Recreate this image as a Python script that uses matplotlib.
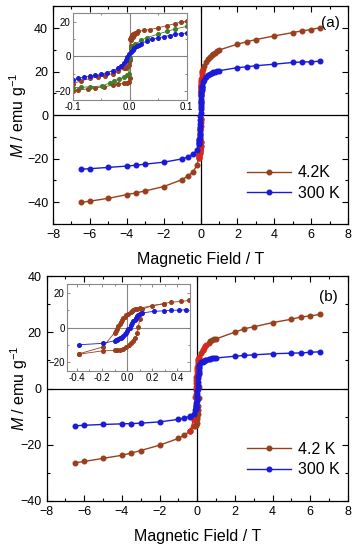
import matplotlib
matplotlib.use("Agg")
import matplotlib.pyplot as plt
from matplotlib.ticker import MultipleLocator

plt.rcParams['font.family'] = ['Liberation Sans', 'DejaVu Sans']
plt.rcParams['mathtext.fontset'] = 'custom'
plt.rcParams['mathtext.rm'] = 'Liberation Sans'
plt.rcParams['mathtext.it'] = 'Liberation Sans:italic'

BROWN = "#9a3f1c"
RED = "#d8281c"
BLUE = "#1a1ad8"
GREEN = "#3f7d2a"

# ── panel (a): main loop ─────────────────────────────────────────────────
a_field_neg = [-6.5, -6, -5, -4, -3.5, -3, -2, -1, -0.7, -0.4, -0.2]
a_42_neg = [-40.1, -39.5, -38.2, -36.5, -35.7, -34.8, -32.8, -29.6, -28.0, -26.0, -23.0]
a_300_neg = [-24.8, -24.6, -24.0, -23.4, -23.0, -22.5, -21.6, -20.1, -19.2, -17.9, -16.1]
a_field_pos = [0.15, 0.2, 0.3, 0.4, 0.5, 0.6, 0.7, 0.8, 0.9, 1.0, 2, 2.5, 3, 4, 5, 5.5, 6, 6.5]
a_42_pos = [21.0, 22.4, 24.2, 25.6, 26.6, 27.4, 28.0, 28.7, 29.3, 29.9,
            32.6, 33.7, 34.7, 36.4, 37.9, 38.7, 39.3, 40.2]
a_300_pos = [15.0, 16.2, 17.4, 18.3, 18.9, 19.3, 19.6, 19.9, 20.2, 20.4,
             21.8, 22.2, 22.7, 23.4, 24.2, 24.4, 24.5, 24.8]

# ── panel (a): low-field inset ───────────────────────────────────────────
ia_300_x = [-0.1, -0.09, -0.08, -0.07, -0.06, -0.05, -0.04, -0.03, -0.02, -0.015,
            -0.01, -0.007, -0.004, -0.001, 0.002, 0.005, 0.008, 0.012, 0.016, 0.02,
            0.03, 0.04, 0.05, 0.06, 0.07, 0.08, 0.09, 0.1]
ia_300_y = [-13.4, -12.6, -11.9, -11.4, -10.9, -10.3, -9.3, -8.2, -6.7, -5.6,
            -3.9, -2.3, -0.5, 1.2, 2.7, 3.7, 4.6, 5.8, 6.7, 7.4,
            8.9, 9.9, 10.7, 11.4, 12.0, 12.7, 13.1, 13.5]
ia_42dn_x = [0.1, 0.09, 0.08, 0.065, 0.049, 0.036, 0.025, 0.015, 0.01, 0.006, 0.004,
             0.002, 0.001, -0.001, -0.002, -0.004, -0.007, -0.01, -0.02, -0.03,
             -0.043, -0.055, -0.07, -0.085, -0.1]
ia_42dn_y = [20.3, 19.8, 18.9, 17.7, 16.4, 15.5, 15.0, 14.4, 13.7, 12.9, 12.2,
             11.3, 10.3, -3.0, -5.0, -6.0, -6.4, -6.9, -8.5, -9.8,
             -11.0, -11.8, -12.6, -14.0, -15.6]
ia_42up_x = [-0.1, -0.09, -0.073, -0.06, -0.045, -0.03, -0.02, -0.01, -0.005, -0.002,
             0.0, 0.001, 0.002, 0.003, 0.005, 0.008, 0.012]
ia_42up_y = [-19.9, -19.4, -18.5, -18.0, -17.4, -16.5, -16.0, -15.4, -15.0, -14.4,
             -12.4, -2.0, 6.2, 9.3, 11.1, 12.4, 13.6]
ia_grn_x = [-0.1, -0.085, -0.069, -0.049, -0.035, -0.028, -0.018, -0.01, -0.005, -0.002,
            0.0, 0.002, 0.005, 0.01, 0.02, 0.03, 0.049, 0.065, 0.08, 0.1]
ia_grn_y = [-18.0, -17.7, -17.4, -17.0, -15.2, -14.0, -12.9, -11.8, -10.7, -9.8,
            -1.0, 4.6, 5.8, 7.2, 9.3, 10.8, 12.8, 14.4, 15.8, 17.3]

# ── panel (b): main loop ─────────────────────────────────────────────────
b_field_neg = [-6.5, -6, -5, -4, -3.5, -3, -2, -1, -0.7, -0.4]
b_42_neg = [-26.5, -26.0, -24.9, -23.8, -23.0, -22.1, -20.2, -17.8, -16.6, -15.3]
b_300_neg = [-13.3, -13.1, -12.8, -12.6, -12.5, -12.35, -11.9, -11.0, -10.5, -10.0]
b_field_pos = [0.6, 0.7, 0.8, 0.9, 1.0, 2, 2.5, 3, 4, 5, 5.5, 6, 6.5]
b_42_pos = [16.4, 16.9, 17.2, 17.5, 17.7, 20.1, 21.3, 22.0, 23.5, 24.7, 25.5, 25.9, 26.4]
b_300_pos = [10.6, 10.7, 10.8, 10.85, 10.9, 11.5, 11.8, 12.0, 12.4, 12.6, 12.7, 12.9, 13.1]

# ── panel (b): low-field inset ───────────────────────────────────────────
ib_300_x = [-0.38, -0.19, -0.1, -0.09, -0.08, -0.07, -0.06, -0.05, -0.04, -0.03, -0.02,
            -0.01, 0.0, 0.01, 0.02, 0.03, 0.04, 0.05, 0.06, 0.07, 0.08, 0.09, 0.1,
            0.12, 0.21, 0.29, 0.35, 0.41, 0.47]
ib_300_y = [-9.9, -9.1, -7.6, -7.3, -7.0, -6.6, -6.3, -5.8, -5.2, -4.6, -3.8,
            -3.0, -2.1, -1.0, 0.0, 1.2, 2.4, 3.6, 4.6, 5.5, 6.4, 7.2, 7.8,
            8.4, 9.3, 9.6, 9.9, 10.0, 10.2]
ib_42dn_x = [0.49, 0.43, 0.35, 0.29, 0.1, 0.08, 0.066, 0.05, 0.04, 0.027, 0.01,
             -0.01, -0.02, -0.03, -0.04, -0.05, -0.06, -0.07, -0.08, -0.09, -0.1,
             -0.19, -0.38]
ib_42dn_y = [15.6, 15.0, 14.6, 13.7, 11.2, 10.9, 10.6, 10.0, 9.6, 8.9, 7.8,
             7.0, 6.2, 5.2, 4.2, 3.0, 1.8, 0.6, -0.6, -1.8, -3.0,
             -11.1, -15.1]
ib_42up_x = [-0.38, -0.19, -0.1, -0.08, -0.054, -0.03, -0.01, 0.013, 0.03, 0.05,
             0.066, 0.08, 0.09, 0.1, 0.11, 0.12, 0.2, 0.29]
ib_42up_y = [-15.3, -13.4, -13.2, -13.1, -13.0, -12.2, -11.0, -10.1, -9.0, -7.6,
             -6.1, -3.3, 0.5, 5.0, 8.5, 10.5, 12.6, 13.7]


def style_main(ax, ymax):
    ax.set_xlim(-8, 8)
    ax.set_ylim(-ymax, ymax)
    ax.xaxis.set_major_locator(MultipleLocator(2))
    ax.xaxis.set_minor_locator(MultipleLocator(1))
    ax.yaxis.set_major_locator(MultipleLocator(20))
    ax.yaxis.set_minor_locator(MultipleLocator(10))
    ax.tick_params(which="both", direction="in", top=True, right=True,
                   width=0.8, labelsize=9)
    ax.tick_params(which="major", length=4)
    ax.tick_params(which="minor", length=2.5)
    ax.axhline(0, color="black", lw=0.9, zorder=1)
    ax.axvline(0, color="black", lw=0.9, zorder=1)
    for s in ax.spines.values():
        s.set_linewidth(0.9)
    ax.set_xlabel("Magnetic Field / T", fontsize=11.5, labelpad=8)
    ax.set_ylabel(r"$M$ / emu g$^{-1}$", fontsize=11.5)


def style_inset(ax, xlim, xstep):
    ax.set_xlim(*xlim)
    ax.set_ylim(-25, 25)
    ax.xaxis.set_major_locator(MultipleLocator(xstep))
    ax.xaxis.set_minor_locator(MultipleLocator(xstep / 2))
    ax.yaxis.set_major_locator(MultipleLocator(20))
    ax.yaxis.set_minor_locator(MultipleLocator(10))
    ax.tick_params(which="both", direction="in", top=True, right=True,
                   width=0.6, labelsize=7, pad=1.5, color="#777777")
    ax.tick_params(which="major", length=2.5)
    ax.tick_params(which="minor", length=1.5)
    ax.axhline(0, color="#888888", lw=0.8, zorder=1)
    ax.axvline(0, color="#888888", lw=0.8, zorder=1)
    for s in ax.spines.values():
        s.set_color("#888888")
        s.set_linewidth(0.8)
    ax.xaxis.set_major_formatter(plt.FuncFormatter(lambda v, p: f"{v:.1f}"))


fig = plt.figure(figsize=(3.56, 5.5), dpi=100)
mk = dict(marker="o", markersize=3.3, lw=1.0)
mk_in = dict(marker="o", markersize=2.6, lw=0.6)
leg_kw = dict(loc="lower right", bbox_to_anchor=(1.02, 0.04), frameon=False,
              fontsize=11.5, handlelength=2.8, handletextpad=0.4, labelspacing=0.35)

# ── (a) ──────────────────────────────────────────────────────────────────
ax_a = fig.add_axes([0.149, 0.5927, 0.8287, 0.3959])
ax_a.plot(a_field_neg + ia_42up_x + a_field_pos, a_42_neg + ia_42up_y + a_42_pos,
          color=BROWN, label="4.2K", **mk)
ax_a.plot(ia_42dn_x, ia_42dn_y, color=RED, **mk)
ax_a.plot(ia_42up_x, ia_42up_y, "o", color=RED, markersize=3.3)
ax_a.plot(a_field_neg + ia_300_x + a_field_pos, a_300_neg + ia_300_y + a_300_pos,
          color=BLUE, label="300 K", **mk)
style_main(ax_a, 50)
ax_a.get_yaxis().set_label_coords(-0.08, 0.5)
ax_a.text(0.94, 0.925, "(a)", transform=ax_a.transAxes, fontsize=11,
          ha="center", va="center")
ax_a.legend(**leg_kw)

in_a = fig.add_axes([0.2042, 0.8182, 0.3202, 0.1582])
in_a.plot(ia_42dn_x, ia_42dn_y, color=BROWN, **mk_in)
in_a.plot(ia_42up_x, ia_42up_y, color=BROWN, **mk_in)
in_a.plot(ia_grn_x, ia_grn_y, color=GREEN, **mk_in)
in_a.plot(ia_300_x, ia_300_y, color=BLUE, **mk_in)
style_inset(in_a, (-0.1, 0.1), 0.1)

# ── (b) ──────────────────────────────────────────────────────────────────
ax_b = fig.add_axes([0.131, 0.0896, 0.846, 0.408])
ax_b.plot(b_field_neg + ib_42up_x + b_field_pos, b_42_neg + ib_42up_y + b_42_pos,
          color=BROWN, label="4.2 K", **mk)
ax_b.plot(ib_42dn_x, ib_42dn_y, color=RED, **mk)
ax_b.plot(b_field_neg + ib_300_x + b_field_pos, b_300_neg + ib_300_y + b_300_pos,
          color=BLUE, label="300 K", **mk)
style_main(ax_b, 40)
ax_b.get_yaxis().set_label_coords(-0.056, 0.5)
ax_b.text(0.934, 0.908, "(b)", transform=ax_b.transAxes, fontsize=11,
          ha="center", va="center")
ax_b.legend(**leg_kw)

in_b = fig.add_axes([0.1874, 0.3255, 0.3464, 0.158])
in_b.plot(ib_42dn_x, ib_42dn_y, color=BROWN, **mk_in)
in_b.plot(ib_42up_x, ib_42up_y, color=BROWN, **mk_in)
in_b.plot(ib_300_x, ib_300_y, color=BLUE, **mk_in)
style_inset(in_b, (-0.48, 0.5), 0.2)

fig.savefig("out.png", dpi=100)
